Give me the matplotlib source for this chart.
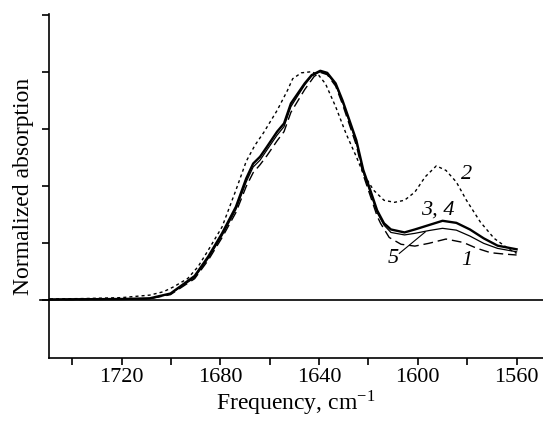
import matplotlib.pyplot as plt
from matplotlib.lines import Line2D

# frekuensi (cm-1) dan absorbsi ternormalisasi
freq_2 = [1749, 1735, 1720, 1708.6, 1703, 1698.8, 1693.2, 1689, 1684.9, 1679.3, 1673.7, 1669.5,
          1666, 1662.5, 1657, 1652.8, 1650.7, 1647.2, 1643, 1640.2, 1637.4, 1633.3, 1629.1,
          1624.9, 1622.1, 1617.9, 1613.7, 1609.5, 1605.4, 1601.2, 1597, 1592.5, 1588.6,
          1584.4, 1580.3, 1574.7, 1569.1, 1563.5, 1560]
abs_2 = [0.006, 0.008, 0.012, 0.023, 0.038, 0.06, 0.096, 0.148, 0.22, 0.322, 0.483, 0.61,
         0.68, 0.735, 0.833, 0.921, 0.972, 0.998, 1.003, 0.988, 0.95, 0.85, 0.732,
         0.63, 0.556, 0.483, 0.439, 0.43, 0.439, 0.475, 0.542, 0.59, 0.57,
         0.519, 0.439, 0.344, 0.272, 0.228, 0.206]

freq_34 = [1749, 1735, 1719.7, 1708.6, 1700.2, 1690.4, 1684.9, 1679.3, 1673.7, 1669.5, 1666.7,
           1663.9, 1661.1, 1657, 1654.2, 1651.4, 1648.6, 1645.8, 1643, 1639.5, 1636.7, 1633.3,
           1630.5, 1627.7, 1624.9, 1622.1, 1619.3, 1616.5, 1613.7, 1610.9, 1605.4, 1601.2,
           1595.6, 1590, 1584.4, 1578.9, 1573.3, 1567.7, 1560]
abs_34 = [0.004, 0.005, 0.006, 0.009, 0.03, 0.107, 0.192, 0.294, 0.41, 0.535, 0.6,
          0.63, 0.674, 0.74, 0.776, 0.864, 0.908, 0.952, 0.988, 1.007, 0.998, 0.952,
          0.877, 0.79, 0.702, 0.572, 0.485, 0.395, 0.338, 0.311, 0.298, 0.311,
          0.33, 0.349, 0.34, 0.311, 0.272, 0.24, 0.224]

freq_5 = [1749, 1735, 1719.7, 1708.6, 1700.2, 1690.4, 1684.9, 1679.3, 1673.7, 1669.5, 1666.7,
          1663.9, 1661.1, 1657, 1654.2, 1651.4, 1648.6, 1645.8, 1643, 1639.5, 1636.7, 1633.3,
          1630.5, 1627.7, 1624.9, 1622.1, 1619.3, 1616.5, 1613.7, 1610.9, 1605.4, 1601.2,
          1595.6, 1590, 1584.4, 1578.9, 1573.3, 1567.7, 1560]
abs_5 = [0.004, 0.005, 0.006, 0.008, 0.028, 0.1, 0.184, 0.284, 0.398, 0.52, 0.585,
         0.615, 0.66, 0.725, 0.762, 0.85, 0.898, 0.945, 0.984, 1.003, 0.994, 0.946,
         0.87, 0.782, 0.693, 0.562, 0.474, 0.385, 0.33, 0.298, 0.287, 0.294,
         0.306, 0.316, 0.308, 0.282, 0.25, 0.228, 0.213]

freq_1 = [1749, 1735, 1719.7, 1708.6, 1700.2, 1690.4, 1684.9, 1679.3, 1673.7, 1669.5, 1666.7,
          1663.9, 1661.1, 1657, 1654.2, 1651.4, 1648.6, 1645.8, 1642, 1639.5, 1636.7, 1633.3,
          1630.5, 1627.7, 1624.9, 1622.1, 1619.3, 1616.5, 1615.1, 1611.6, 1606.8, 1601.2,
          1595.6, 1588.6, 1581.6, 1576, 1570.5, 1564.9, 1560]
abs_1 = [0.003, 0.004, 0.005, 0.007, 0.025, 0.095, 0.176, 0.275, 0.385, 0.5, 0.56,
         0.595, 0.635, 0.7, 0.74, 0.825, 0.875, 0.925, 0.982, 1.0, 0.99, 0.94,
         0.86, 0.77, 0.68, 0.55, 0.46, 0.37, 0.338, 0.276, 0.246, 0.238,
         0.25, 0.269, 0.254, 0.228, 0.209, 0.203, 0.199]

x_ticks = [1720, 1680, 1640, 1600, 1560]
x_minor = [1740, 1700, 1660, 1620, 1580]
y_ticks = [0, 0.25, 0.5, 0.75, 1.0, 1.25]

plt.rcParams['font.family'] = ['Liberation Serif', 'DejaVu Serif']
plt.rcParams['mathtext.fontset'] = 'stix'

fig = plt.figure(figsize=(5.43, 4.21), dpi=100)
ax = fig.add_axes([0.0902, 0.149, 0.9098, 0.8177])

ax.plot(freq_2, abs_2, color='black', lw=1.0, dashes=(2.2, 2.2))
ax.plot(freq_1, abs_1, color='black', lw=1.0, dashes=(7, 3.5))
ax.plot(freq_5, abs_5, color='black', lw=0.9)
ax.plot(freq_34, abs_34, color='black', lw=1.7)

ax.add_line(Line2D([-0.018, 1], [0, 0], transform=ax.get_yaxis_transform(),
                   color='black', lw=1.2, clip_on=False))

ax.set_xlim(1749.4, 1549.3)
ax.set_ylim(-0.254, 1.256)
ax.set_xticks(x_ticks)
ax.set_xticks(x_minor, minor=True)
ax.set_yticks(y_ticks)
ax.set_yticklabels([])
ax.tick_params(axis='both', direction='out', length=5, width=1.2, labelsize=16, pad=2)
ax.tick_params(axis='x', which='minor', direction='out', length=5, width=1.2)
for side in ['left', 'bottom']:
    ax.spines[side].set_linewidth(1.2)
ax.spines['top'].set_visible(False)
ax.spines['right'].set_visible(False)

ax.set_xlabel('Frequency, cm$^{\\mathregular{-1}}$', fontsize=17, labelpad=1)
ax.set_ylabel('Normalized absorption', fontsize=17, labelpad=4)

ax.text(1580.3, 0.55, '2', fontsize=16, style='italic', ha='center', va='center')
ax.text(1592, 0.396, '3, 4', fontsize=16, style='italic', ha='center', va='center')
ax.text(1609.8, 0.184, '5', fontsize=16, style='italic', ha='center', va='center')
ax.text(1580.3, 0.177, '1', fontsize=16, style='italic', ha='center', va='center')
ax.plot([1607.5, 1597], [0.206, 0.30], color='black', lw=0.8)

fig.savefig('out.png', dpi=100)
